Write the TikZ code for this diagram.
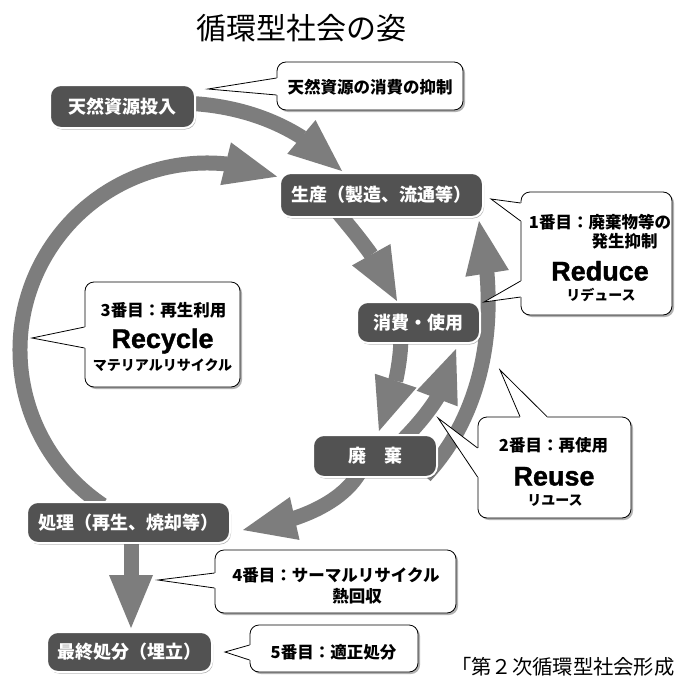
\documentclass[tikz,border=0pt]{standalone}
\usepackage{fontspec}
\setmainfont{Liberation Sans}
\newfontfamily\jp{Noto Sans CJK JP}
\newfontfamily\heavy[FakeBold=1.2]{Liberation Sans Bold}
\usetikzlibrary{arrows.meta,bending,shadows,calc}
\definecolor{arrowgray}{RGB}{125,125,125}
\definecolor{boxgray}{RGB}{82,82,82}
% #1 anchor, #2 offset 1, #3 offset 2, #4 tip, #5 inward vector
\newcommand\callptr[5]{%
  \fill[white] ($#1+#2$) -- (#4) -- ($#1+#3$) -- ($#1+#3+#5$) -- ($#1+#2+#5$) -- cycle;
  \draw[wedgeline] ($#1+#2$) -- (#4) -- ($#1+#3$);}
\begin{document}
\begin{tikzpicture}[x=1pt,y=-1pt,
  bigarrow/.style={draw=arrowgray,line width=15pt,-{Triangle[length=53pt,width=44pt,line width=0pt]}},
  darkbox/.style={draw=white,line width=2pt,fill=boxgray,rounded corners=11pt,text=white,
    font=\jp\bfseries\fontsize{18}{18}\selectfont,inner sep=0pt,
    drop shadow={shadow xshift=1pt,shadow yshift=-1.5pt,fill=black,opacity=0.3}},
  callbox/.style={draw=black,line width=0.8pt,fill=white,rounded corners=9pt,inner sep=0pt,
    drop shadow={shadow xshift=2pt,shadow yshift=-2pt,fill=black,opacity=0.3}},
  wedgeline/.style={draw=black,line width=0.8pt,line join=miter},
  jtext/.style={font=\jp\bfseries\fontsize{16.5}{16.5}\selectfont,inner sep=0pt},
  ktext/.style={font=\jp\bfseries\fontsize{14}{14}\selectfont,inner sep=0pt},
  etext/.style={font=\heavy\fontsize{27}{27}\selectfont,inner sep=0pt,anchor=base},
]
\useasboundingbox (0,0) rectangle (676,680);
\fill[white] (0,0) rectangle (676,680);

% title
\node[font=\jp\fontsize{30}{30}\selectfont,inner sep=0pt] (title) at (301,28) {循環型社会の姿};

% arrow coordinates
\coordinate (a1s) at (175,103);  \coordinate (a1e) at (342,171);
\coordinate (rc)  at (207,350);
\coordinate (a3s) at (332,205);  \coordinate (a3e) at (397,301);
\coordinate (a4s) at (401,335);  \coordinate (a4e) at (379,431);
\coordinate (a5s) at (398,445);  \coordinate (a5e) at (456,349);
\coordinate (a6s) at (425,476);  \coordinate (a6e) at (479,221);
\coordinate (a7s) at (362,468);  \coordinate (a7e) at (243,530);
\coordinate (a8s) at (131,540);  \coordinate (a8e) at (131,628);

% arrows
\draw[bigarrow] (a1s) .. controls (240,103) and (300,125) .. (a1e);
\draw[bigarrow] (rc) ++(124:187) arc[start angle=124,end angle=292,radius=187];
\draw[bigarrow] (a3s) .. controls (350,228) and (382,262) .. (a3e);
\draw[bigarrow] (a4s) .. controls (401,365) and (393,400) .. (a4e);
\draw[bigarrow] (a5s) .. controls (425,418) and (450,388) .. (a5e);
\draw[bigarrow] (a6s) .. controls (478,420) and (503,330) .. (a6e);
\draw[bigarrow] (a7s) .. controls (345,502) and (300,522) .. (a7e);
\draw[bigarrow] (a8s) -- (a8e);

% dark boxes
\node[darkbox,minimum width=145pt,minimum height=43pt] (n1) at (122.5,106.5) {天然資源投入};
\node[darkbox,minimum width=203pt,minimum height=44pt] (n2) at (381.5,195) {生産（製造、流通等）};
\node[darkbox,minimum width=123pt,minimum height=41pt] (n3) at (418.5,322.5) {消費・使用};
\node[darkbox,minimum width=124pt,minimum height=42pt] (n4) at (375,456) {廃　棄};
\node[darkbox,minimum width=203pt,minimum height=41pt] (n5) at (128.5,522.5) {処理（再生、焼却等）};
\node[darkbox,minimum width=165pt,minimum height=40pt] (n6) at (129.5,652) {最終処分（埋立）};

% callout tips
\coordinate (p1) at (208,89);
\coordinate (p2a) at (491,199);
\coordinate (p2b) at (484,302);
\coordinate (p3) at (32,338);
\coordinate (p4a) at (500,370);
\coordinate (p4b) at (438,418);
\coordinate (p5) at (158,580);
\coordinate (p6) at (225,652);

% callouts
\node[callbox,minimum width=186pt,minimum height=48pt] (c1) at (370,86) {};
\callptr{(c1.west)}{(0,-8)}{(0,9)}{p1}{(2.5,0)}
\node[callbox,minimum width=151pt,minimum height=123pt] (c2) at (596.5,253.5) {};
\callptr{(c2.west)}{(0,-50.5)}{(0,-32.5)}{p2a}{(2.5,0)}
\callptr{(c2.west)}{(0,27.5)}{(0,43.5)}{p2b}{(2.5,0)}
\node[callbox,minimum width=155pt,minimum height=105pt] (c3) at (162.5,334.5) {};
\callptr{(c3.west)}{(0,-7.5)}{(0,13.5)}{p3}{(2.5,0)}
\node[callbox,minimum width=153pt,minimum height=101pt] (c4) at (554.5,467.5) {};
\callptr{(c4.north)}{(-34.5,0)}{(-7.5,0)}{p4a}{(0,2.5)}
\callptr{(c4.west)}{(0,-19.5)}{(0,9.5)}{p4b}{(2.5,0)}
\node[callbox,minimum width=241pt,minimum height=63pt] (c5) at (335.5,581.5) {};
\callptr{(c5.west)}{(0,-8.5)}{(0,6.5)}{p5}{(2.5,0)}
\node[callbox,minimum width=168pt,minimum height=47pt] (c6) at (334,648.5) {};
\callptr{(c6.west)}{(0,-3.5)}{(0,11.5)}{p6}{(2.5,0)}

% callout texts
\node[jtext] (t1) at (370,87) {天然資源の消費の抑制};
\node[jtext] (t2a) at (600,222) {1番目：廃棄物等の};
\node[jtext] (t2b) at (624.5,241) {発生抑制};
\node[etext] (t2c) at (600,280.5) {Reduce};
\node[ktext] (t2d) at (601,295) {リデュース};
\node[jtext] (t3a) at (163.5,310) {3番目：再生利用};
\node[etext] (t3b) at (162.5,348) {Recycle};
\node[ktext] (t3c) at (162.5,365) {マテリアルリサイクル};
\node[jtext] (t4a) at (553.5,445) {2番目：再使用};
\node[etext] (t4b) at (554,485.5) {Reuse};
\node[ktext] (t4c) at (555,500) {リユース};
\node[jtext] (t5a) at (336,575) {4番目：サーマルリサイクル};
\node[jtext] (t5b) at (357,596) {熱回収};
\node[jtext] (t6) at (333.5,652) {5番目：適正処分};

% citation
\node[font=\jp\fontsize{20.3}{20.3}\selectfont,anchor=west,inner sep=0pt] (cite) at (451,667) {「第２次循環型社会形成};
\end{tikzpicture}
\end{document}
